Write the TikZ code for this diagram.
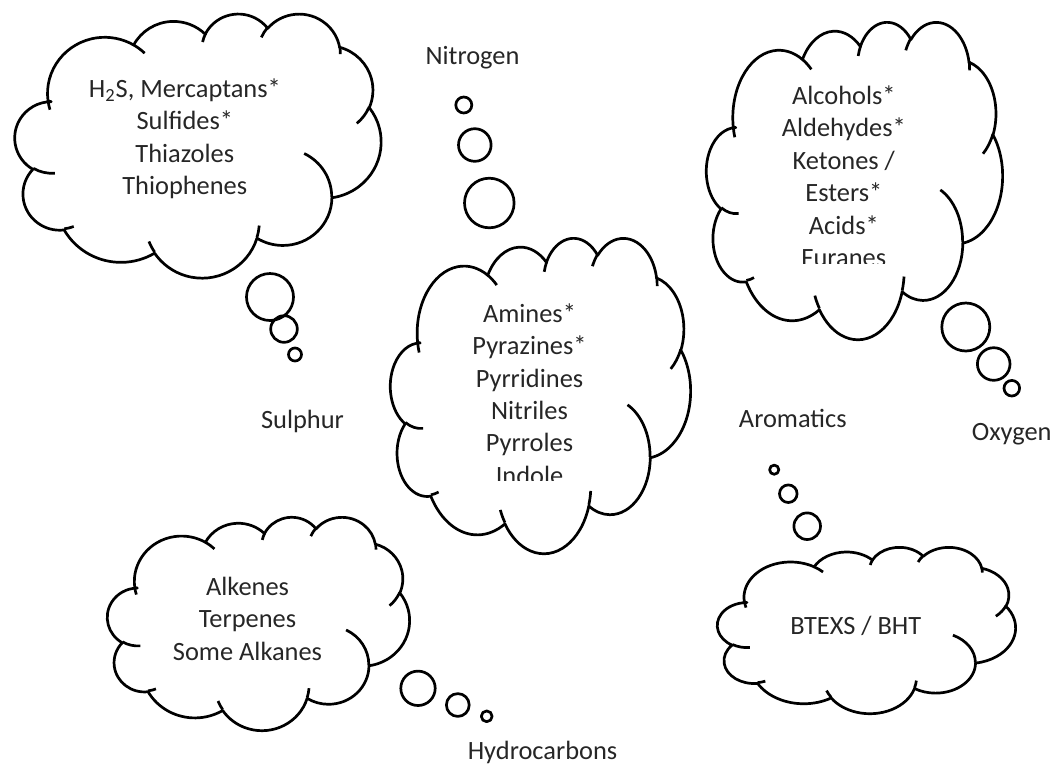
\documentclass[tikz,border=0pt]{standalone}
\usepackage{fontspec}
\setmainfont{Carlito}
\definecolor{ink}{RGB}{38,38,38}
\tikzset{thoughts/.style={x=0.5pt,y=-0.5pt,line width=1.35pt,line join=round,
    font=\fontsize{13.2}{16.2}\selectfont},
  blob/.style={align=center,text=ink,inner sep=0pt,anchor=base},
  tag/.style={text=ink,inner sep=0pt,anchor=base}}
% arc of the office cloud: radii, start and sweep in degrees, taken on the drawn ellipse
\newcommand\cloudarc[4]{arc[x radius=#1,y radius=#2,
    start angle={atan2(#1*sin(#3),#2*cos(#3))},
    delta angle={mod(atan2(#1*sin(#3+#4),#2*cos(#3+#4))-atan2(#1*sin(#3),#2*cos(#3))+720,360)}]}
% cloud in a box: left, top, width, height (px)
\newcommand\cloud[4]{%
  \begin{scope}[shift={(#1,#2)},xscale=#3/43.2,yscale=#4/43.2]
    \draw (3.9,14.37) \cloudarc{6.753}{9.19}{-190.4875}{123.7805}
      \cloudarc{5.333}{7.267}{-144.1024}{89.9452}
      \cloudarc{4.365}{5.945}{-145.8079}{99.7230}
      \cloudarc{4.857}{6.595}{-130.9861}{117.2417}
      \cloudarc{5.333}{7.273}{-78.7089}{109.0269}
      \cloudarc{6.775}{9.22}{-46.2673}{130.2690}
      \cloudarc{5.785}{7.867}{0.6250}{114.0333}
      \cloudarc{6.752}{9.215}{22.4516}{115.1726}
      \cloudarc{7.72}{10.543}{66.2426}{75.7110}
      \cloudarc{4.36}{5.918}{-274.9421}{146.7356}
      \cloudarc{4.345}{5.945}{-246.8285}{156.4903} -- cycle;
    % creases
    \draw (4.693,26.177) \cloudarc{4.345}{5.945}{86.7420}{26.4295};
    \draw (6.928,34.899) \cloudarc{4.36}{5.918}{73.6105}{11.4475};
    \draw (16.478,39.09) \cloudarc{6.752}{9.215}{137.6242}{14.0811};
    \draw (28.827,34.751) \cloudarc{6.752}{9.215}{6.4533}{15.9984};
    \draw (34.129,22.954) \cloudarc{5.785}{7.867}{-70.2924}{70.9174};
    \draw (41.798,15.354) \cloudarc{5.333}{7.273}{30.3180}{27.7515};
    \draw (38.324,5.426) \cloudarc{4.857}{6.595}{-13.7443}{14.8589};
    \draw (29.078,3.952) \cloudarc{4.857}{6.595}{-149.1815}{18.1954};
    \draw (22.141,4.72) \cloudarc{4.365}{5.945}{-163.4943}{17.6864};
    \draw (14,5.192) \cloudarc{6.753}{9.19}{-66.7070}{12.3194};
    \draw (4.127,15.789) \cloudarc{6.753}{9.19}{157.6544}{11.8582};
  \end{scope}}

\begin{document}
\begin{tikzpicture}[thoughts]
  \useasboundingbox (0,0) rectangle (1053,767);

  % sulphur (blob nodes sit on the baseline of their last line)
  \cloud{15}{13.2}{366}{264}
  \node[blob] (sulphurtxt) at (184.8,194.5)
    {H\textsubscript{2}S, Mercaptans*\\Sulfides*\\Thiazoles\\Thiophenes};
  \draw (270,297) circle (23.5) (284,329) circle (13.3) (295,354.5) circle (6.5);
  \node[tag] (sulphur) at (302.5,428.3) {Sulphur};

  % nitrogen
  \cloud{390.5}{237.3}{300}{315.3}
  \begin{scope}
    \clip (390,238) rectangle (692,480);
    \node[blob] (nitrotxt) at (529.5,484.2)
      {Amines*\\Pyrazines*\\Pyrridines\\Nitriles\\Pyrroles\\Indole};
  \end{scope}
  \draw (463.8,105) circle (8) (474.8,145) circle (16.3) (489.3,203) circle (24.8);
  \node[tag] (nitrogen) at (472.5,64) {Nitrogen};

  % oxygen
  \cloud{706.5}{21.3}{296}{317.3}
  \begin{scope}
    \clip (706,21) rectangle (1004,263);
    \node[blob] (oxytxt) at (843.8,266.5)
      {Alcohols*\\Aldehydes*\\Ketones /\\Esters*\\Acids*\\Furanes};
  \end{scope}
  \draw (965.8,327) circle (24) (993.7,364) circle (16.3) (1011.8,388.2) circle (7.8);
  \node[tag] (oxygen) at (1011.7,440) {Oxygen};

  % hydrocarbons
  \cloud{107.5}{516.6}{302}{213.3}
  \node[blob] (hydrotxt) at (247.5,660) {Alkenes\\Terpenes\\Some Alkanes};
  \draw (418,688.3) circle (17.2) (457.8,705) circle (11.4) (486.7,716.3) circle (5.4);
  \node[tag] (hydro) at (542.5,759) {Hydrocarbons};

  % aromatics
  \cloud{717.5}{546.8}{298}{166.3}
  \node[blob] (aromtxt) at (855.8,634.3) {BTEXS / BHT};
  \draw (774.2,469.7) circle (4.6) (788.3,493.7) circle (8.8) (807.2,526.2) circle (13.3);
  \node[tag] (arom) at (792.8,427.3) {Aromatics};
\end{tikzpicture}
\end{document}
